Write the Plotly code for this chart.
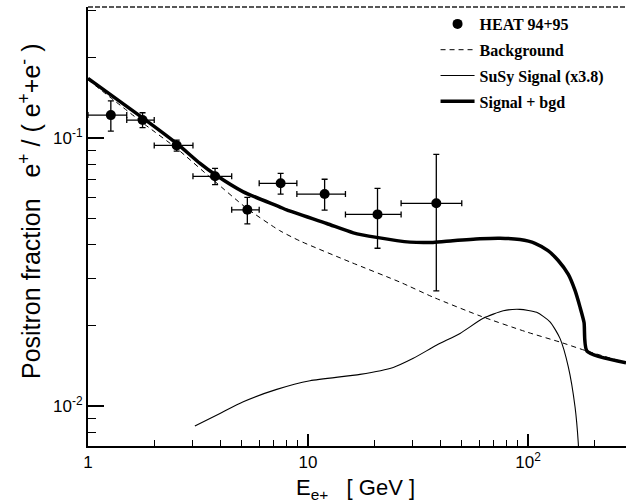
import plotly.graph_objects as go

# HEAT 94+95 data points
heat_E = [1.27, 1.77, 2.53, 3.78, 5.30, 7.51, 11.9, 20.7, 38.3]
heat_E_lo = [1.0, 1.5, 2.0, 3.0, 4.5, 6.0, 8.9, 14.8, 26.5]
heat_E_hi = [1.5, 2.0, 3.0, 4.5, 6.0, 8.9, 14.8, 26.5, 50.0]
heat_frac = [0.1218, 0.1167, 0.0939, 0.0720, 0.0540, 0.0678, 0.0618, 0.0519, 0.0571]
heat_frac_hi = [0.1377, 0.1243, 0.0983, 0.0771, 0.0601, 0.0738, 0.0702, 0.0649, 0.0869]
heat_frac_lo = [0.1062, 0.1093, 0.0894, 0.0670, 0.0478, 0.0618, 0.0538, 0.0388, 0.0269]

# Background
bgd_E = [1.0, 1.784, 2.53, 3.711, 5.265, 7.42, 9.20, 15.52, 26.2, 37.0, 60.5, 99.0, 139.8, 185.4, 279]
bgd_frac = [0.165, 0.1135, 0.0915, 0.0697, 0.0547, 0.0452, 0.0413, 0.0345, 0.0290, 0.0255,
            0.0217, 0.01888, 0.01733, 0.01604, 0.01451]

# SuSy signal (x3.8)
sig_E = [3.06, 3.98, 5.08, 7.21, 10.21, 17.24, 24.4, 30.1, 38.5, 49.1, 62.6, 77.2, 91.9,
         109.5, 125.9, 139.8, 152.5, 163.6, 169.3, 171.0]
sig_frac = [0.00842, 0.00939, 0.01038, 0.01154, 0.01243, 0.01313, 0.01394, 0.01507, 0.01689,
            0.01867, 0.02125, 0.02267, 0.02295, 0.02237, 0.02063, 0.01789, 0.01401, 0.00994,
            0.00726, 0.0060]

# Signal + background
sb_E = [1.0, 1.784, 2.53, 3.23, 3.78, 5.08, 7.42, 8.0, 12.16, 16.07, 20.5, 29.1, 37.0, 45.5,
        60.5, 74.6, 91.9, 107.6, 123.3, 136.9, 152.5, 163.6, 172.4, 179.8, 185.4, 279]
sb_frac = [0.167, 0.1185, 0.0955, 0.0804, 0.0731, 0.0630, 0.0554, 0.0539, 0.0480, 0.0443,
           0.0426, 0.0409, 0.0408, 0.0414, 0.0421, 0.0423, 0.0418, 0.0405, 0.0380, 0.0350,
           0.0310, 0.0270, 0.0234, 0.0205, 0.01604, 0.01451]

x_tickvals = [1, 10, 100]
x_ticktext = ["1", "10", "10<sup>2</sup>"]
y_tickvals = [0.01, 0.1]
y_ticktext = ["10<sup>-2</sup>", "10<sup>-1</sup>"]

fig = go.Figure()

fig.add_trace(go.Scatter(
    x=heat_E, y=heat_frac, mode="markers", name="HEAT 94+95",
    marker=dict(color="black", size=10),
    error_x=dict(type="data", symmetric=False,
                 array=[h - e for h, e in zip(heat_E_hi, heat_E)],
                 arrayminus=[e - l for e, l in zip(heat_E, heat_E_lo)],
                 color="black", thickness=1.3, width=3),
    error_y=dict(type="data", symmetric=False,
                 array=[h - v for h, v in zip(heat_frac_hi, heat_frac)],
                 arrayminus=[v - l for v, l in zip(heat_frac, heat_frac_lo)],
                 color="black", thickness=1.3, width=3),
    legendgroup="a",
))
fig.add_trace(go.Scatter(
    x=bgd_E, y=bgd_frac, mode="lines", name="Background",
    line=dict(color="black", width=1, dash="5px,4px", shape="spline", smoothing=0.6),
    legendgroup="b",
))
fig.add_trace(go.Scatter(
    x=sig_E, y=sig_frac, mode="lines", name="SuSy Signal (x3.8)",
    line=dict(color="black", width=1.1, shape="spline", smoothing=0.6),
    legendgroup="c",
))
fig.add_trace(go.Scatter(
    x=sb_E, y=sb_frac, mode="lines", name="Signal + bgd",
    line=dict(color="black", width=3.5, shape="spline", smoothing=0.6),
    legendgroup="d",
))

tickfont = dict(family="Liberation Sans", size=17, color="black")

fig.update_layout(
    width=626, height=504,
    margin=dict(l=88, r=0, t=7, b=58, autoexpand=False),
    plot_bgcolor="white", paper_bgcolor="white",
    showlegend=True,
    legend=dict(
        x=0.646, y=1.0, xanchor="left", yanchor="top",
        font=dict(family="Liberation Serif", size=16, color="black", weight="bold"),
        bgcolor="rgba(0,0,0,0)", traceorder="grouped", tracegroupgap=2,
        itemwidth=34,
    ),
    xaxis=dict(
        type="log", range=[0, 2.4455],
        tickmode="array", tickvals=x_tickvals, ticktext=x_ticktext,
        ticks="inside", ticklen=12, tickwidth=1.5, tickcolor="black",
        showline=True, linewidth=2, linecolor="black", mirror=False,
        showgrid=False, zeroline=False, tickfont=tickfont,
        minor=dict(tickvals=[2, 3, 4, 5, 6, 7, 8, 9, 20, 30, 40, 50, 60, 70, 80, 90, 200],
                   ticks="inside", ticklen=6, tickwidth=1, tickcolor="black", showgrid=False),
    ),
    yaxis=dict(
        type="log", range=[-2.149, -0.511],
        tickmode="array", tickvals=y_tickvals, ticktext=y_ticktext,
        ticks="inside", ticklen=16, tickwidth=1.5, tickcolor="black",
        showline=True, linewidth=2, linecolor="black", mirror=False,
        showgrid=False, zeroline=False, tickfont=tickfont,
        minor=dict(tickvals=[0.007, 0.008, 0.009, 0.02, 0.03, 0.04, 0.05, 0.06, 0.07, 0.08, 0.09, 0.2, 0.3],
                   ticks="inside", ticklen=8, tickwidth=1, tickcolor="black", showgrid=False),
    ),
    shapes=[dict(type="line", xref="paper", yref="paper", x0=0, x1=1, y0=1, y1=1,
                 line=dict(color="#222", width=1.5, dash="5px,2px"))],
    annotations=[
        dict(text="Positron fraction   e<sup>+</sup> / ( e<sup>+</sup>+e<sup>-</sup> )",
             xref="paper", yref="paper", x=-0.108, y=0.535, textangle=-90,
             showarrow=False, xanchor="center", yanchor="middle",
             font=dict(family="Liberation Sans", size=25, color="black")),
        dict(text="E<sub>e+</sub>   [ GeV ]",
             xref="paper", yref="paper", x=0.497, y=-0.097, showarrow=False,
             xanchor="center", yanchor="middle",
             font=dict(family="Liberation Sans", size=22, color="black")),
    ],
)

fig.write_html("out.html", config={"displayModeBar": False},
               post_script="document.body.style.margin='0';")
